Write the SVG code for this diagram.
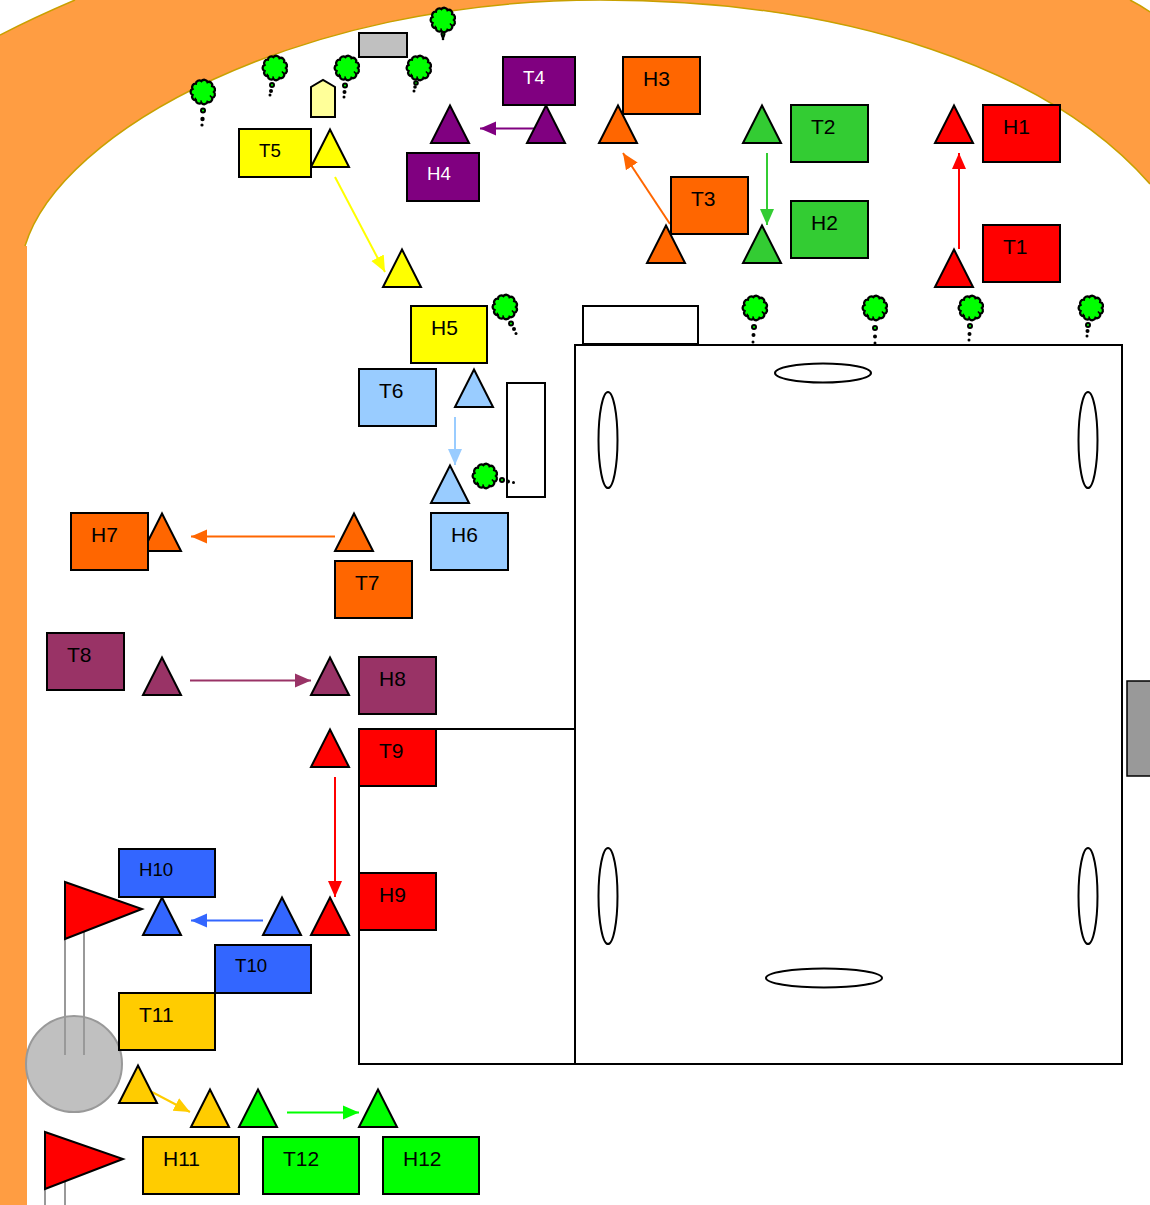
<svg xmlns="http://www.w3.org/2000/svg" xmlns:xlink="http://www.w3.org/1999/xlink" width="1150" height="1205" viewBox="0 0 1150 1205">
<style>
text{font-family:"Liberation Sans",Arial,sans-serif;font-size:21px;fill:#000;transform:translateY(.4px)}
.s{font-size:18.67px}
.w{fill:#fff}
.b,.t,.o{stroke:#000;stroke-width:2}
.o{fill:#fff}
.edge{fill:none;stroke:#c8a000;stroke-width:1.5}
.c{fill:none;stroke-width:2}
.dg{fill:#00ff00;stroke:#000;stroke-width:2}
.dk{fill:#000}
.pole{stroke:#999;stroke-width:2;fill:none}
</style>
<defs>
<marker id="m-red" markerUnits="userSpaceOnUse" markerWidth="16" markerHeight="16" refX="16" refY="8" orient="auto"><path d="M0 1L16 8L0 15Z" fill="#f00"/></marker>
<marker id="m-green" markerUnits="userSpaceOnUse" markerWidth="16" markerHeight="16" refX="16" refY="8" orient="auto"><path d="M0 1L16 8L0 15Z" fill="#33cc33"/></marker>
<marker id="m-orange" markerUnits="userSpaceOnUse" markerWidth="16" markerHeight="16" refX="16" refY="8" orient="auto"><path d="M0 1L16 8L0 15Z" fill="#ff6600"/></marker>
<marker id="m-purple" markerUnits="userSpaceOnUse" markerWidth="16" markerHeight="16" refX="16" refY="8" orient="auto"><path d="M0 1L16 8L0 15Z" fill="#800080"/></marker>
<marker id="m-yellow" markerUnits="userSpaceOnUse" markerWidth="16" markerHeight="16" refX="16" refY="8" orient="auto"><path d="M0 1L16 8L0 15Z" fill="#ff0"/></marker>
<marker id="m-lblue" markerUnits="userSpaceOnUse" markerWidth="16" markerHeight="16" refX="16" refY="8" orient="auto"><path d="M0 1L16 8L0 15Z" fill="#99ccff"/></marker>
<marker id="m-plum" markerUnits="userSpaceOnUse" markerWidth="16" markerHeight="16" refX="16" refY="8" orient="auto"><path d="M0 1L16 8L0 15Z" fill="#993366"/></marker>
<marker id="m-blue" markerUnits="userSpaceOnUse" markerWidth="16" markerHeight="16" refX="16" refY="8" orient="auto"><path d="M0 1L16 8L0 15Z" fill="#3366ff"/></marker>
<marker id="m-gold" markerUnits="userSpaceOnUse" markerWidth="16" markerHeight="16" refX="16" refY="8" orient="auto"><path d="M0 1L16 8L0 15Z" fill="#ffcc00"/></marker>
<marker id="m-lime" markerUnits="userSpaceOnUse" markerWidth="16" markerHeight="16" refX="16" refY="8" orient="auto"><path d="M0 1L16 8L0 15Z" fill="#0f0"/></marker>
<g id="crown"><g transform="scale(1.15)"><path fill="#00ff00" stroke="#000" stroke-width="2" d="M9.500 0A3 3 0 0 1 8 5.100A3 3 0 0 1 3.900 8.600A3 3 0 0 1 -1.400 9.400A3 3 0 0 1 -6.200 7.200A3 3 0 0 1 -9.100 2.700A3 3 0 0 1 -9.100 -2.700A3 3 0 0 1 -6.200 -7.200A3 3 0 0 1 -1.400 -9.400A3 3 0 0 1 3.900 -8.600A3 3 0 0 1 8 -5.100A3 3 0 0 1 9.500 0Z"/><path fill="none" stroke="#000" stroke-width="1.300" d="M8 5.100L6 3M-1.400 9.400L-1.800 7.200M-6.200 7.200L-6.800 5"/></g></g>
<path id="tri" d="M0 .5L19 38L-19 38Z"/>
</defs>

<g id="terrain">
<path fill="#ff9d42" d="M0 35Q35 17 75 0L1130 0Q1140 5 1150 12L1150 184C1050 70 850 0 600 0C300 0 60 130 25 246L27 246L27 1205L0 1205Z"/>
<path class="edge" d="M0 35Q35 17 75 0"/>
<path class="edge" d="M1130 0Q1140 5 1150 12"/>
<path class="edge" d="M1150 184C1050 70 850 0 600 0C300 0 60 130 25 246"/>
</g>

<g id="buildings">
<rect class="o" x="583" y="306" width="115" height="38"/>
<rect class="o" x="575" y="345" width="547" height="719"/>
<rect class="o" x="359" y="729" width="216" height="335"/>
<rect class="o" x="507" y="383" width="38" height="114"/>
<rect x="359" y="33" width="48" height="24" fill="#c0c0c0" stroke="#000" stroke-width="2"/>
<rect x="1127" y="681" width="26" height="95" fill="#999" stroke="#000" stroke-width="1.500"/>
<polygon points="311,117 311,87 323,80 335,87 335,117" fill="#ffff99" stroke="#000" stroke-width="2"/>
<ellipse class="o" cx="823" cy="373" rx="48" ry="9.500"/>
<ellipse class="o" cx="824" cy="978" rx="58" ry="9.500"/>
<ellipse class="o" cx="608" cy="440" rx="9.500" ry="48"/>
<ellipse class="o" cx="1088" cy="440" rx="9.500" ry="48"/>
<ellipse class="o" cx="608" cy="896" rx="9.500" ry="48"/>
<ellipse class="o" cx="1088" cy="896" rx="9.500" ry="48"/>
</g>

<g id="trees">
<g><use href="#crown" x="203" y="92"/><circle class="dg" cx="203" cy="110.500" r="2"/><circle class="dk" cx="202.500" cy="119" r="2.200"/><circle class="dk" cx="202" cy="125" r="1.600"/></g>
<g><use href="#crown" x="275" y="68"/><circle class="dg" cx="272" cy="85" r="2"/><circle class="dk" cx="271" cy="91" r="2"/><circle class="dk" cx="270" cy="95" r="1.500"/></g>
<g><use href="#crown" x="347" y="68"/><circle class="dg" cx="345" cy="85.500" r="2"/><circle class="dk" cx="344.500" cy="92" r="2"/><circle class="dk" cx="344" cy="97" r="1.500"/></g>
<g><use href="#crown" x="419" y="68"/><circle class="dg" cx="416" cy="83" r="1.800"/><circle class="dk" cx="415" cy="87" r="1.800"/><circle class="dk" cx="414" cy="91" r="1.500"/></g>
<g><use href="#crown" x="443" y="20"/><circle class="dg" cx="443" cy="34" r="1.500"/><circle class="dk" cx="443" cy="36.500" r="1.800"/><circle class="dk" cx="443" cy="39" r="1.300"/></g>
<g><use href="#crown" x="505" y="307"/><circle class="dg" cx="511" cy="323.500" r="2"/><circle class="dk" cx="514" cy="329" r="2"/><circle class="dk" cx="516" cy="333.500" r="1.500"/></g>
<g><use href="#crown" x="485" y="476"/><circle class="dg" cx="502" cy="480" r="2"/><circle class="dk" cx="508" cy="481.500" r="2"/><circle class="dk" cx="513.500" cy="482.500" r="1.500"/></g>
<g><use href="#crown" x="755" y="308"/><circle class="dg" cx="754" cy="327" r="2"/><circle class="dk" cx="753.500" cy="335" r="2"/><circle class="dk" cx="753" cy="342" r="1.500"/></g>
<g><use href="#crown" x="875" y="308"/><circle class="dg" cx="875" cy="328" r="2"/><circle class="dk" cx="875" cy="336.500" r="2"/><circle class="dk" cx="875" cy="343" r="1.500"/></g>
<g><use href="#crown" x="971" y="308"/><circle class="dg" cx="970" cy="326" r="2"/><circle class="dk" cx="969.500" cy="334" r="2"/><circle class="dk" cx="969" cy="340" r="1.500"/></g>
<g><use href="#crown" x="1091" y="308"/><circle class="dg" cx="1088" cy="325" r="2"/><circle class="dk" cx="1087.500" cy="331" r="2"/><circle class="dk" cx="1087" cy="336" r="1.500"/></g>
</g>

<g id="ball-and-flags">
<circle cx="74" cy="1064" r="48" fill="#c0c0c0" stroke="#999" stroke-width="2"/>
<path class="pole" d="M65 935V1055M84 930V1055M45 1185V1205M65 1180V1205"/>
<polygon points="65,882 142,909 65,939" fill="#f00" stroke="#000" stroke-width="2"/>
<polygon points="45,1132 123,1159 45,1189" fill="#f00" stroke="#000" stroke-width="2"/>
</g>

<g id="connectors">
<path class="c" stroke="#f00" marker-end="url(#m-red)" d="M959 249L959 153"/>
<path class="c" stroke="#33cc33" marker-end="url(#m-green)" d="M767 153L767 225"/>
<path class="c" stroke="#ff6600" marker-end="url(#m-orange)" d="M670 224L623 153"/>
<path class="c" stroke="#800080" marker-end="url(#m-purple)" d="M546 128.500L480 128.500"/>
<path class="c" stroke="#ff0" marker-end="url(#m-yellow)" d="M335 177L385 272"/>
<path class="c" stroke="#99ccff" marker-end="url(#m-lblue)" d="M455 417L455 465"/>
<path class="c" stroke="#ff6600" marker-end="url(#m-orange)" d="M335 536.500L191 536.500"/>
<path class="c" stroke="#993366" marker-end="url(#m-plum)" d="M190 680.500L311 680.500"/>
<path class="c" stroke="#f00" marker-end="url(#m-red)" d="M335 777L335 897"/>
<path class="c" stroke="#3366ff" marker-end="url(#m-blue)" d="M263 920.500L191 920.500"/>
<path class="c" stroke="#ffcc00" marker-end="url(#m-gold)" d="M152 1092L190 1112"/>
<path class="c" stroke="#0f0" marker-end="url(#m-lime)" d="M287 1112.500L359 1112.500"/>
</g>

<g id="T1"><use class="t" fill="#f00" href="#tri" x="954" y="249"/><rect class="b" fill="#f00" x="983" y="225" width="77" height="57"/><text x="1003" y="254">T1</text></g>
<g id="H1"><use class="t" fill="#f00" href="#tri" x="954" y="105"/><rect class="b" fill="#f00" x="983" y="105" width="77" height="57"/><text x="1003" y="134">H1</text></g>
<g id="T2"><use class="t" fill="#33cc33" href="#tri" x="762" y="105"/><rect class="b" fill="#33cc33" x="791" y="105" width="77" height="57"/><text x="811" y="134">T2</text></g>
<g id="H2"><use class="t" fill="#33cc33" href="#tri" x="762" y="225"/><rect class="b" fill="#33cc33" x="791" y="201" width="77" height="57"/><text x="811" y="230">H2</text></g>
<g id="H3"><use class="t" fill="#ff6600" href="#tri" x="618" y="105"/><rect class="b" fill="#ff6600" x="623" y="57" width="77" height="57"/><text x="643" y="86">H3</text></g>
<g id="T3"><use class="t" fill="#ff6600" href="#tri" x="666" y="225"/><rect class="b" fill="#ff6600" x="671" y="177" width="77" height="57"/><text x="691" y="206">T3</text></g>
<g id="T4"><use class="t" fill="#800080" href="#tri" x="546" y="105"/><rect class="b" fill="#800080" x="503" y="57" width="72" height="48"/><text class="s w" x="523" y="84">T4</text></g>
<g id="H4"><use class="t" fill="#800080" href="#tri" x="450" y="105"/><rect class="b" fill="#800080" x="407" y="153" width="72" height="48"/><text class="s w" x="427" y="180">H4</text></g>
<g id="T5"><use class="t" fill="#ff0" href="#tri" x="330" y="129"/><rect class="b" fill="#ff0" x="239" y="129" width="72" height="48"/><text class="s" x="259" y="157">T5</text></g>
<g id="H5"><use class="t" fill="#ff0" href="#tri" x="402" y="249"/><rect class="b" fill="#ff0" x="411" y="306" width="76" height="57"/><text x="431" y="335">H5</text></g>
<g id="T6"><use class="t" fill="#99ccff" href="#tri" x="474" y="369"/><rect class="b" fill="#99ccff" x="359" y="369" width="77" height="57"/><text x="379" y="398">T6</text></g>
<g id="H6"><use class="t" fill="#99ccff" href="#tri" x="450" y="465"/><rect class="b" fill="#99ccff" x="431" y="513" width="77" height="57"/><text x="451" y="542">H6</text></g>
<g id="H7"><use class="t" fill="#ff6600" href="#tri" x="162" y="513"/><rect class="b" fill="#ff6600" x="71" y="513" width="77" height="57"/><text x="91" y="542">H7</text></g>
<g id="T7"><use class="t" fill="#ff6600" href="#tri" x="354" y="513"/><rect class="b" fill="#ff6600" x="335" y="561" width="77" height="57"/><text x="355" y="590">T7</text></g>
<g id="T8"><use class="t" fill="#993366" href="#tri" x="162" y="657"/><rect class="b" fill="#993366" x="47" y="633" width="77" height="57"/><text x="67" y="662">T8</text></g>
<g id="H8"><use class="t" fill="#993366" href="#tri" x="330" y="657"/><rect class="b" fill="#993366" x="359" y="657" width="77" height="57"/><text x="379" y="686">H8</text></g>
<g id="T9"><use class="t" fill="#f00" href="#tri" x="330" y="729"/><rect class="b" fill="#f00" x="359" y="729" width="77" height="57"/><text x="379" y="758">T9</text></g>
<g id="H9"><use class="t" fill="#f00" href="#tri" x="330" y="897"/><rect class="b" fill="#f00" x="359" y="873" width="77" height="57"/><text x="379" y="902">H9</text></g>
<g id="H10"><use class="t" fill="#3366ff" href="#tri" x="162" y="897"/><rect class="b" fill="#3366ff" x="119" y="849" width="96" height="48"/><text class="s" x="139" y="876">H10</text></g>
<g id="T10"><use class="t" fill="#3366ff" href="#tri" x="282" y="897"/><rect class="b" fill="#3366ff" x="215" y="945" width="96" height="48"/><text class="s" x="235" y="972">T10</text></g>
<g id="T11"><use class="t" fill="#ffcc00" href="#tri" x="138" y="1065"/><rect class="b" fill="#ffcc00" x="119" y="993" width="96" height="57"/><text x="139" y="1022">T11</text></g>
<g id="H11"><use class="t" fill="#ffcc00" href="#tri" x="210" y="1089"/><rect class="b" fill="#ffcc00" x="143" y="1137" width="96" height="57"/><text x="163" y="1166">H11</text></g>
<g id="T12"><use class="t" fill="#0f0" href="#tri" x="258" y="1089"/><rect class="b" fill="#0f0" x="263" y="1137" width="96" height="57"/><text x="283" y="1166">T12</text></g>
<g id="H12"><use class="t" fill="#0f0" href="#tri" x="378" y="1089"/><rect class="b" fill="#0f0" x="383" y="1137" width="96" height="57"/><text x="403" y="1166">H12</text></g>
</svg>
